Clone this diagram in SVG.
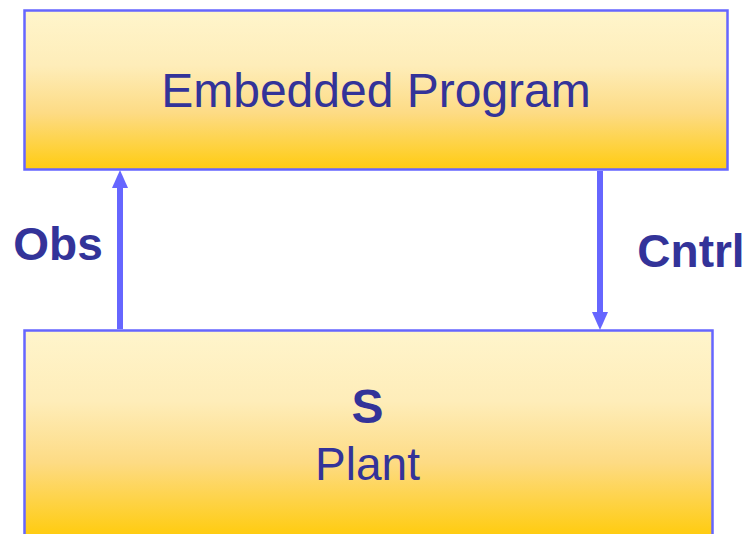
<svg xmlns="http://www.w3.org/2000/svg" width="749" height="534" viewBox="0 0 749 534">
  <defs>
    <linearGradient id="gTop" x1="0" y1="10" x2="0" y2="169" gradientUnits="userSpaceOnUse">
      <stop offset="0" stop-color="#FFF5CC"/>
      <stop offset="0.35" stop-color="#FEEDB9"/>
      <stop offset="0.65" stop-color="#FDDB84"/>
      <stop offset="1" stop-color="#FFCC11"/>
    </linearGradient>
    <linearGradient id="gBot" x1="0" y1="330" x2="0" y2="534" gradientUnits="userSpaceOnUse">
      <stop offset="0" stop-color="#FFF5CC"/>
      <stop offset="0.35" stop-color="#FEEDB9"/>
      <stop offset="0.65" stop-color="#FDDB84"/>
      <stop offset="1" stop-color="#FFCC11"/>
    </linearGradient>
    <style>
      .box { stroke: #6666FF; stroke-width: 2.5; }
      .lbl { font-family: "Liberation Sans", Arial, sans-serif; fill: #333399; text-anchor: middle; }
      .bold { font-weight: bold; }
      .conn { stroke: #6666FF; stroke-width: 6; fill: none; }
      .head { fill: #6666FF; }
    </style>
  </defs>
  <rect width="749" height="534" fill="#FFFFFF"/>
  <g id="embedded-program">
    <rect class="box" x="24.5" y="10.5" width="703" height="159" fill="url(#gTop)"/>
    <text class="lbl" x="376" y="107" font-size="48">Embedded Program</text>
  </g>
  <g id="plant">
    <rect class="box" x="24.5" y="330.5" width="688" height="215" fill="url(#gBot)"/>
    <text class="lbl bold" x="367.5" y="423" font-size="48">S</text>
    <text class="lbl" x="367.5" y="480" font-size="46">Plant</text>
  </g>
  <g id="connectors">
    <g id="obs">
      <line class="conn" x1="120" y1="329" x2="120" y2="185"/>
      <polygon class="head" points="120,170 112,188 128,188"/>
      <text class="lbl bold" x="58" y="260" font-size="46">Obs</text>
    </g>
    <g id="cntrl">
      <line class="conn" x1="600" y1="171" x2="600" y2="314"/>
      <polygon class="head" points="600,330 592,312 608,312"/>
      <text class="lbl bold" x="691" y="267" font-size="46">Cntrl</text>
    </g>
  </g>
</svg>
